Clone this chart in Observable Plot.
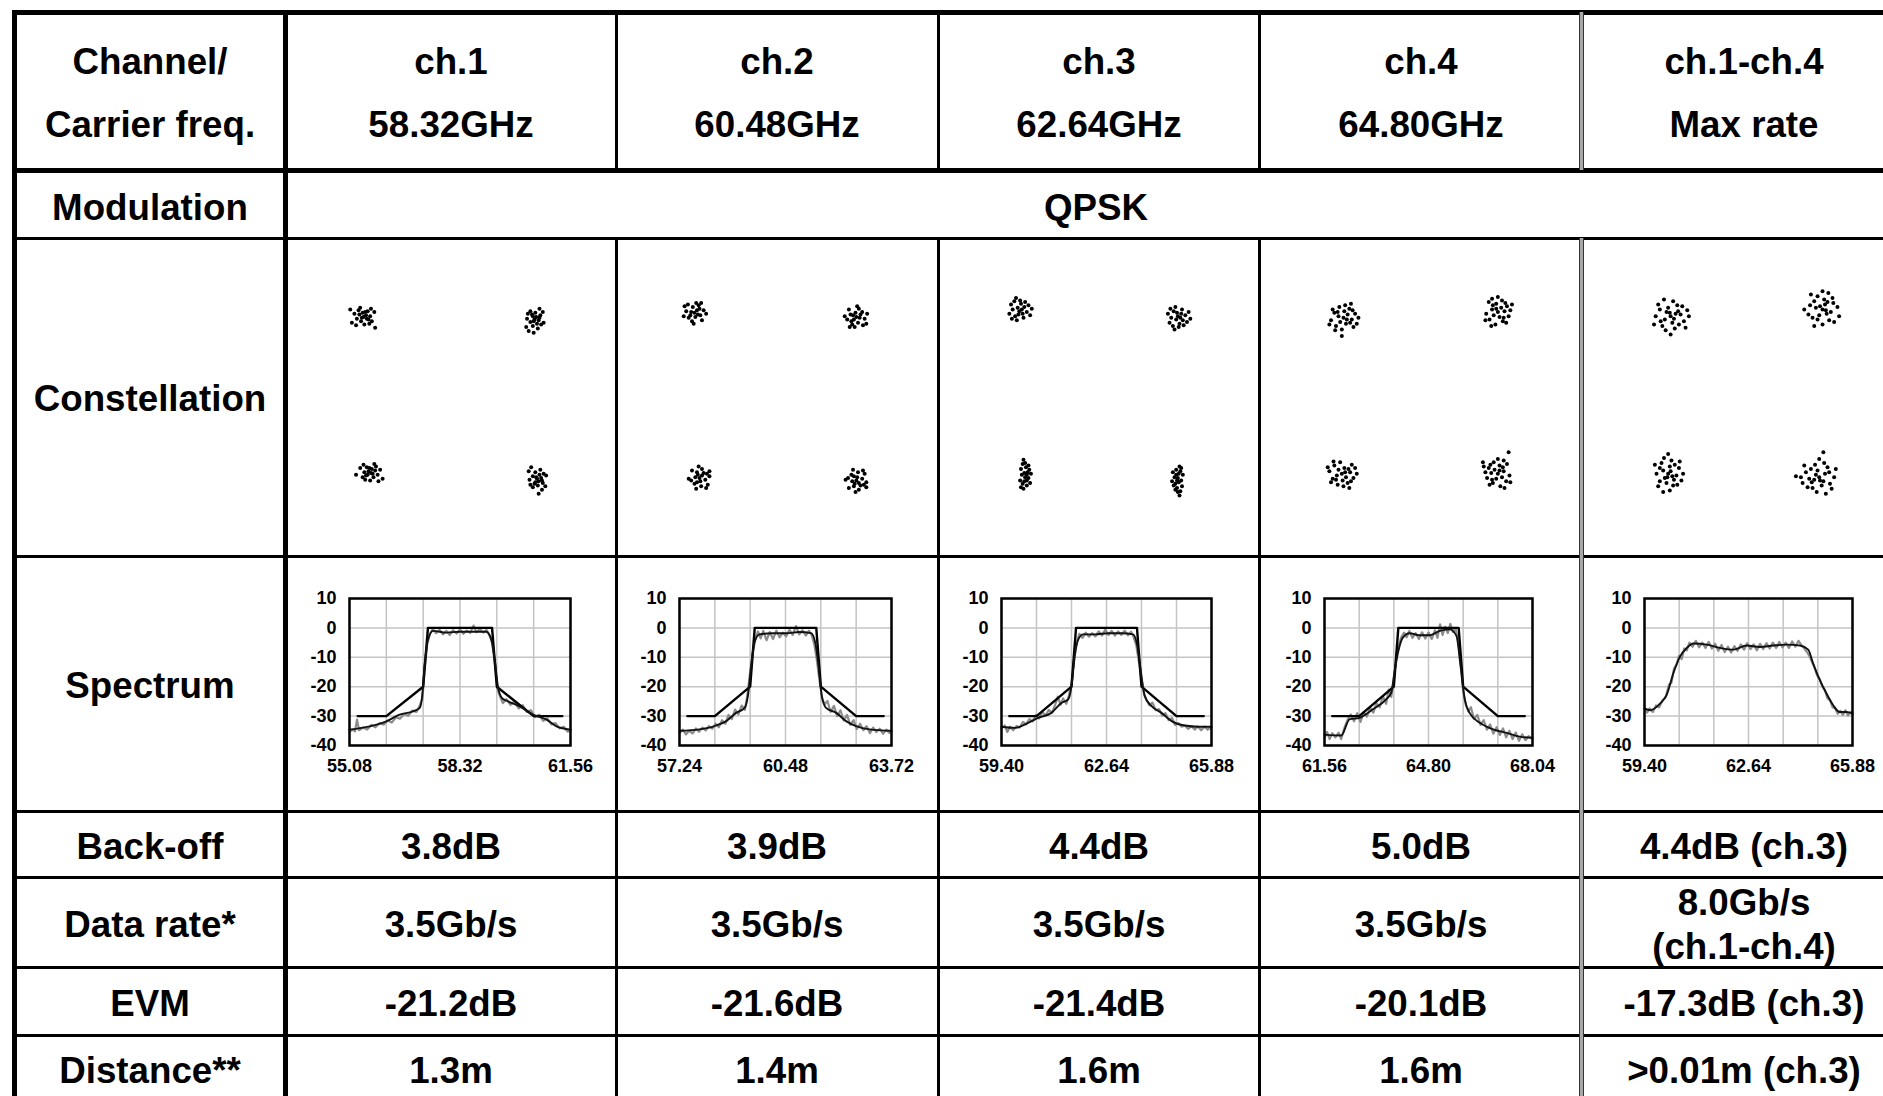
<!DOCTYPE html>
<html><head><meta charset="utf-8">
<script src="https://cdn.jsdelivr.net/npm/d3@7"></script>
<script src="https://cdn.jsdelivr.net/npm/@observablehq/plot@0.6"></script>
<style>
html,body{margin:0;padding:0;background:#fff;overflow:hidden;}
#wrap{position:relative;width:1883px;height:1096px;overflow:hidden;background:#fff;font-family:"Liberation Sans",Arial,sans-serif;font-weight:bold;color:#000;}
.ln{position:absolute;background:#000;}
.dbl{position:absolute;box-sizing:border-box;border-left:1.5px solid #333;border-right:1.5px solid #333;background:#a8a8a8;}
.tx{position:absolute;transform:translate(-50%,-50%) scaleX(1.02);white-space:nowrap;font-size:36px;line-height:1;}
.pl{position:absolute;}
</style></head><body><div id="wrap"></div>
<script>
// ---------------- DATA ----------------
const channels = ["ch.1", "ch.2", "ch.3", "ch.4", "ch.1-ch.4"];
const carrierFreq = ["58.32GHz", "60.48GHz", "62.64GHz", "64.80GHz", "Max rate"];
const headerLabel = ["Channel/", "Carrier freq."];
const rowLabels = ["Modulation", "Constellation", "Spectrum", "Back-off", "Data rate*", "EVM", "Distance**"];
const modulation = "QPSK";
const backOff = ["3.8dB", "3.9dB", "4.4dB", "5.0dB", "4.4dB (ch.3)"];
const dataRate = [["3.5Gb/s"], ["3.5Gb/s"], ["3.5Gb/s"], ["3.5Gb/s"], ["8.0Gb/s", "(ch.1-ch.4)"]];
const evm = ["-21.2dB", "-21.6dB", "-21.4dB", "-20.1dB", "-17.3dB (ch.3)"];
const distance = ["1.3m", "1.4m", "1.6m", "1.6m", ">0.01m (ch.3)"];

const yTicks = [10, 0, -10, -20, -30, -40];
const xTickLabels = [
  ["55.08", "58.32", "61.56"],
  ["57.24", "60.48", "63.72"],
  ["59.40", "62.64", "65.88"],
  ["61.56", "64.80", "68.04"],
  ["59.40", "62.64", "65.88"]
];
const gridFreqs = [
  [55.08, 56.16, 57.24, 58.32, 59.40, 60.48, 61.56],
  [57.24, 58.32, 59.40, 60.48, 61.56, 62.64, 63.72],
  [59.40, 60.48, 61.56, 62.64, 63.72, 64.80, 65.88],
  [61.56, 62.64, 63.72, 64.80, 65.88, 66.96, 68.04],
  [59.40, 60.48, 61.56, 62.64, 63.72, 64.80, 65.88]
];

// spectral mask (black template), [GHz, dB]
const maskCh1 = [[55.32,-30],[56.16,-30],[57.24,-20],[57.38,0],[59.26,0],[59.40,-20],[60.48,-30],[61.32,-30]];
const maskCh2 = [[57.48,-30],[58.32,-30],[59.40,-20],[59.54,0],[61.42,0],[61.56,-20],[62.64,-30],[63.48,-30]];
const maskCh3 = [[59.64,-30],[60.48,-30],[61.56,-20],[61.70,0],[63.58,0],[63.72,-20],[64.80,-30],[65.64,-30]];
const maskCh4 = [[61.80,-30],[62.64,-30],[63.72,-20],[63.86,0],[65.74,0],[65.88,-20],[66.96,-30],[67.80,-30]];

// measured spectrum, averaged (black)
const smoothCh1 = [[55.08,-34.6],[55.67,-33.5],[56.16,-31.8],[56.55,-29.5],[56.94,-28.4],[57.14,-27.2],[57.21,-23.3],[57.28,-13],[57.38,-4],[57.53,-1],[57.92,-1.6],[58.31,-1.3],[58.70,-1.3],[59.09,-1.3],[59.24,-4],[59.34,-11],[59.44,-20.5],[59.56,-24],[59.73,-25],[60.07,-26.7],[60.46,-29.5],[60.86,-31.2],[61.15,-33.5],[61.56,-34.6]];
const smoothCh2 = [[57.24,-35],[57.85,-34.5],[58.31,-33.4],[58.67,-31.7],[58.97,-28.9],[59.23,-27.2],[59.33,-23.2],[59.43,-13],[59.53,-5],[59.69,-2.2],[60.09,-1.8],[60.50,-1.8],[60.91,-1.4],[61.26,-1.8],[61.39,-5],[61.49,-13],[61.59,-23.2],[61.72,-27.2],[62.03,-28.9],[62.33,-31.7],[62.64,-33.4],[63.05,-34.5],[63.72,-35]];
const smoothCh3 = [[59.40,-33.6],[59.81,-34],[60.22,-32.3],[60.53,-30.6],[60.94,-28.9],[61.25,-25.5],[61.46,-24.3],[61.56,-19.8],[61.66,-9.5],[61.77,-3.9],[61.92,-2.2],[62.28,-2.2],[62.69,-1.8],[63.10,-1.8],[63.46,-2.2],[63.59,-6.1],[63.69,-14],[63.82,-23.2],[64.03,-26.6],[64.34,-28.9],[64.65,-31.7],[65.06,-33.2],[65.47,-33.6],[65.88,-33.6]];
const smoothCh4 = [[61.56,-36.3],[62.08,-36.6],[62.34,-31.1],[62.65,-30.6],[63.07,-27.7],[63.48,-24.3],[63.64,-22],[63.74,-15.2],[63.85,-8.4],[64.00,-3.3],[64.21,-1.8],[64.52,-2.5],[64.84,-2.5],[65.15,-1],[65.46,-0.5],[65.67,-2.7],[65.80,-13],[65.93,-24.3],[66.08,-28.9],[66.40,-32.3],[66.81,-34.5],[67.23,-35.7],[67.64,-37],[68.04,-37.4]];
const smoothAll = [[59.40,-27.4],[59.58,-28],[59.89,-25.7],[60.09,-22.8],[60.30,-15.4],[60.51,-9.7],[60.72,-6.8],[60.92,-5.3],[61.34,-5.7],[61.75,-6.8],[62.17,-7.4],[62.58,-6],[62.99,-6.5],[63.41,-6],[63.82,-5.7],[64.24,-6],[64.50,-7.4],[64.65,-12],[64.86,-17.7],[65.07,-22.3],[65.28,-26.3],[65.48,-28.6],[65.69,-28.6],[65.88,-29.1]];

// measured spectrum, raw trace (gray)
const rawCh1 = [[55.08,-35.4],[55.16,-34.6],[55.24,-35.2],[55.30,-31.2],[55.36,-34.8],[55.48,-33.9],[55.60,-34.6],[55.72,-33.0],[55.84,-33.8],[55.96,-32.4],[56.08,-32.9],[56.20,-31.5],[56.32,-32.2],[56.44,-30.4],[56.56,-30.9],[56.68,-29.3],[56.80,-29.9],[56.92,-28.1],[57.04,-28.6],[57.14,-26.4],[57.22,-24.0],[57.28,-14.0],[57.36,-5.5],[57.44,-2.0],[57.52,-0.4],[57.62,-1.8],[57.72,-0.6],[57.82,-2.2],[57.92,-1.0],[58.02,-2.4],[58.12,-0.8],[58.22,-1.9],[58.32,-0.5],[58.42,-2.0],[58.52,-0.9],[58.62,-1.7],[58.72,0.8],[58.80,-1.5],[58.90,-0.4],[59.00,-1.6],[59.10,-0.7],[59.18,-2.4],[59.26,-5.0],[59.34,-12.0],[59.42,-20.8],[59.50,-23.5],[59.58,-25.6],[59.68,-24.2],[59.80,-26.2],[59.92,-25.0],[60.04,-27.4],[60.16,-26.3],[60.28,-28.6],[60.40,-28.0],[60.52,-30.3],[60.64,-29.5],[60.76,-31.6],[60.88,-30.8],[61.00,-32.8],[61.12,-32.4],[61.24,-34.2],[61.36,-33.6],[61.48,-35.3],[61.56,-34.8]];
const rawCh2 = [[57.24,-35.8],[57.34,-34.6],[57.44,-36.2],[57.54,-35.0],[57.64,-35.9],[57.74,-34.2],[57.84,-35.3],[57.94,-33.9],[58.04,-34.9],[58.14,-33.4],[58.24,-34.3],[58.34,-32.6],[58.44,-33.8],[58.54,-31.4],[58.64,-32.6],[58.74,-29.6],[58.84,-31.0],[58.94,-27.8],[59.04,-29.4],[59.14,-26.4],[59.24,-27.9],[59.32,-22.5],[59.40,-15.0],[59.48,-8.5],[59.56,-3.5],[59.64,-1.2],[59.72,-3.6],[59.80,-1.0],[59.90,-4.2],[60.00,-1.4],[60.10,-3.8],[60.20,-0.9],[60.30,-3.2],[60.40,-1.6],[60.50,-2.9],[60.60,-0.6],[60.70,-2.4],[60.80,0.6],[60.90,-2.2],[61.00,-0.8],[61.10,-2.6],[61.20,-0.9],[61.28,-2.5],[61.36,-5.5],[61.44,-11.0],[61.52,-18.0],[61.60,-24.0],[61.68,-26.0],[61.76,-24.8],[61.86,-28.6],[61.96,-26.5],[62.06,-30.0],[62.16,-28.0],[62.26,-31.5],[62.36,-29.6],[62.46,-33.0],[62.56,-31.4],[62.66,-34.4],[62.76,-32.6],[62.86,-34.8],[62.96,-33.4],[63.06,-35.8],[63.16,-33.9],[63.26,-35.4],[63.36,-34.3],[63.46,-36.0],[63.56,-34.6],[63.66,-35.7],[63.72,-35.0]];
const rawCh3 = [[59.40,-34.2],[59.50,-33.2],[59.58,-35.4],[59.66,-33.6],[59.76,-34.8],[59.86,-33.4],[59.96,-33.9],[60.06,-32.0],[60.16,-32.8],[60.26,-31.0],[60.36,-31.8],[60.46,-29.6],[60.56,-30.8],[60.66,-28.6],[60.76,-29.8],[60.86,-27.9],[60.96,-28.9],[61.06,-26.0],[61.14,-23.4],[61.22,-26.2],[61.30,-24.0],[61.40,-25.8],[61.48,-23.0],[61.56,-19.0],[61.64,-11.0],[61.72,-5.0],[61.80,-2.0],[61.90,-3.4],[62.00,-1.6],[62.10,-3.0],[62.20,-1.8],[62.30,-2.9],[62.40,-1.2],[62.50,-2.6],[62.60,-0.6],[62.70,-2.4],[62.80,-1.0],[62.90,-2.6],[63.00,-1.2],[63.10,-2.4],[63.20,-0.9],[63.30,-2.5],[63.40,-1.3],[63.48,-3.2],[63.56,-6.0],[63.64,-11.5],[63.72,-17.5],[63.80,-22.5],[63.88,-24.6],[63.96,-26.3],[64.06,-25.4],[64.16,-28.0],[64.26,-27.6],[64.36,-29.8],[64.46,-29.0],[64.56,-31.4],[64.66,-30.6],[64.76,-33.0],[64.86,-32.4],[64.96,-33.6],[65.06,-33.2],[65.16,-34.4],[65.26,-33.4],[65.36,-34.6],[65.46,-33.5],[65.56,-34.8],[65.66,-33.6],[65.76,-34.6],[65.88,-33.8]];
const rawCh4 = [[61.56,-37.4],[61.64,-35.4],[61.72,-37.8],[61.80,-35.8],[61.90,-37.2],[62.00,-35.6],[62.08,-37.8],[62.18,-34.0],[62.28,-31.2],[62.38,-29.4],[62.48,-31.8],[62.58,-29.0],[62.68,-32.0],[62.78,-28.6],[62.88,-30.2],[62.98,-27.0],[63.08,-28.8],[63.18,-25.6],[63.28,-27.0],[63.38,-23.2],[63.48,-25.8],[63.56,-21.0],[63.64,-23.5],[63.72,-17.0],[63.80,-10.0],[63.88,-5.5],[63.96,-3.0],[64.04,-1.6],[64.12,-3.2],[64.20,-1.0],[64.30,-3.4],[64.40,-1.8],[64.50,-3.8],[64.60,-1.5],[64.70,-3.6],[64.80,-1.6],[64.90,-3.8],[65.00,-0.8],[65.08,-3.4],[65.16,1.2],[65.24,-2.4],[65.32,0.4],[65.40,-1.8],[65.48,1.4],[65.56,-1.4],[65.64,-0.2],[65.72,-4.0],[65.80,-12.0],[65.88,-21.5],[65.96,-26.0],[66.04,-28.4],[66.12,-27.0],[66.22,-31.0],[66.32,-29.6],[66.42,-33.0],[66.52,-31.4],[66.62,-34.6],[66.72,-32.8],[66.82,-36.0],[66.92,-33.8],[67.02,-36.4],[67.12,-34.2],[67.22,-37.2],[67.32,-35.0],[67.42,-37.8],[67.52,-35.6],[67.62,-38.4],[67.72,-36.2],[67.82,-38.2],[67.92,-36.8],[68.04,-37.8]];
const rawAll = [[59.40,-27.0],[59.48,-28.8],[59.56,-27.4],[59.66,-28.6],[59.76,-26.4],[59.86,-27.0],[59.96,-24.6],[60.06,-23.6],[60.16,-19.4],[60.24,-18.6],[60.32,-13.8],[60.40,-12.4],[60.48,-9.4],[60.56,-10.6],[60.64,-7.0],[60.72,-7.6],[60.80,-5.0],[60.90,-6.4],[61.00,-4.4],[61.10,-6.6],[61.20,-5.0],[61.30,-6.8],[61.40,-4.8],[61.50,-7.0],[61.60,-5.4],[61.70,-7.8],[61.80,-5.8],[61.90,-8.2],[62.00,-6.4],[62.10,-8.4],[62.20,-6.2],[62.30,-7.8],[62.40,-5.6],[62.50,-7.4],[62.60,-5.2],[62.70,-7.2],[62.80,-5.6],[62.90,-7.6],[63.00,-5.4],[63.10,-7.2],[63.20,-5.2],[63.30,-7.0],[63.40,-5.0],[63.50,-6.8],[63.60,-4.8],[63.70,-6.6],[63.80,-5.0],[63.90,-6.8],[64.00,-4.6],[64.10,-6.4],[64.20,-4.4],[64.30,-6.0],[64.38,-7.0],[64.46,-8.2],[64.54,-9.6],[64.62,-11.6],[64.70,-13.6],[64.78,-16.2],[64.86,-17.4],[64.94,-20.0],[65.02,-21.2],[65.10,-24.0],[65.18,-24.6],[65.26,-27.0],[65.34,-27.4],[65.42,-29.2],[65.50,-28.2],[65.58,-29.6],[65.66,-28.0],[65.74,-29.8],[65.82,-28.6],[65.88,-29.4]];

// constellation samples, [I, Q]
const constCh1 = [
[-1.06,0.97],[-1.02,0.95],[-1.11,1.00],[-1.04,1.03],[-1.09,0.92],[-0.98,0.98],[-1.14,0.95],[-1.01,1.04],[-1.12,1.05],[-1.05,0.88],[-0.96,0.92],[-1.17,1.01],[-1.03,0.99],[-1.08,0.96],[-0.99,0.89],[-1.10,1.08],[-0.93,1.03],[-1.20,0.90],[-1.00,0.94],[-1.07,1.02],[-0.97,1.07],[-1.15,0.87],[-1.22,1.06],[-0.92,0.84],
[1.00,0.94],[0.98,0.98],[1.03,0.89],[1.06,0.96],[0.95,0.91],[1.01,1.02],[0.98,0.86],[1.07,0.99],[1.08,0.88],[0.91,0.95],[0.95,1.04],[1.04,0.83],[1.02,0.97],[0.99,0.92],[0.92,1.01],[1.11,0.90],[1.06,1.07],[0.93,0.80],[0.97,1.00],[1.05,0.93],[1.10,1.03],[0.90,0.85],[0.99,0.78],
[-0.97,-0.91],[-1.01,-0.93],[-0.92,-0.88],[-0.99,-0.85],[-0.94,-0.96],[-1.05,-0.90],[-0.89,-0.93],[-1.02,-0.84],[-0.91,-0.83],[-0.98,-1.00],[-1.07,-0.96],[-0.86,-0.87],[-1.00,-0.89],[-0.95,-0.92],[-1.04,-0.99],[-0.93,-0.80],[-1.10,-0.85],[-0.83,-0.98],[-1.03,-0.94],[-0.96,-0.86],[-1.06,-0.81],[-0.88,-1.01],[-1.15,-0.93],
[1.03,-0.98],[1.01,-1.02],[1.06,-0.93],[1.09,-1.00],[0.98,-0.95],[1.04,-1.06],[1.01,-0.90],[1.10,-1.03],[1.11,-0.92],[0.94,-0.99],[0.98,-1.08],[1.07,-0.87],[1.05,-1.01],[1.02,-0.96],[0.95,-1.05],[1.14,-0.94],[1.09,-1.11],[0.96,-0.84],[1.00,-1.04],[1.08,-0.97],[1.13,-1.07],[0.93,-0.89],[1.05,-1.16]
];
const constCh2 = [
[-1.00,1.02],[-0.97,1.05],[-1.04,1.03],[-0.99,0.97],[-1.02,1.09],[-0.93,0.99],[-1.07,0.96],[-0.95,1.11],[-1.10,1.04],[-0.89,1.05],[-1.03,0.92],[-0.98,1.14],[-0.91,0.93],[-1.12,1.10],[-0.96,1.00],[-1.05,0.99],[-0.94,1.07],[-1.08,1.12],[-0.86,1.01],[-1.01,0.89],[-0.92,1.14],[-1.13,0.98],
[0.95,0.97],[0.92,0.94],[0.99,0.96],[0.94,1.02],[0.97,0.90],[0.88,1.00],[1.02,1.03],[0.90,0.88],[1.05,0.95],[0.84,0.94],[0.98,1.07],[0.93,0.85],[0.86,1.06],[1.07,0.89],[0.91,0.99],[1.00,1.00],[0.89,0.92],[1.03,0.87],[0.81,0.98],[0.96,1.10],[0.87,0.85],[1.08,1.01],
[-0.94,-0.97],[-0.91,-0.94],[-0.93,-1.01],[-0.99,-0.96],[-0.87,-0.99],[-0.97,-0.90],[-1.00,-1.04],[-0.85,-0.92],[-0.92,-1.07],[-0.91,-0.86],[-1.04,-1.00],[-0.82,-0.95],[-1.03,-0.88],[-0.86,-1.09],[-0.96,-0.93],[-0.97,-1.02],[-0.89,-0.91],[-0.84,-1.05],[-0.95,-0.83],[-1.07,-0.98],[-0.82,-0.89],[-0.98,-1.10],
[0.95,-1.00],[0.98,-1.03],[0.96,-0.96],[0.90,-1.01],[1.02,-0.98],[0.92,-1.07],[0.89,-0.93],[1.04,-1.05],[0.97,-0.90],[0.98,-1.11],[0.85,-0.97],[1.07,-1.02],[0.86,-1.09],[1.03,-0.88],[0.93,-1.04],[0.92,-0.95],[1.00,-1.06],[1.05,-0.92],[0.94,-1.14],[0.82,-0.99],[1.07,-1.08],[0.91,-0.87]
];
const constCh3 = [
[-0.96,1.04],[-0.98,1.08],[-0.92,1.01],[-0.90,1.09],[-1.01,0.98],[-0.94,1.13],[-1.04,1.06],[-0.87,1.03],[-0.99,0.93],[-0.85,1.11],[-1.06,1.12],[-0.95,1.17],[-0.91,0.96],[-1.02,1.16],[-0.83,0.99],[-1.08,1.01],[-0.93,1.06],[-0.97,1.00],[-0.89,1.15],[-1.05,0.95],[-0.81,1.07],[-1.00,1.20],
[0.95,0.98],[0.93,0.94],[0.99,1.01],[1.01,0.93],[0.90,1.04],[0.97,0.89],[0.87,0.96],[1.04,0.99],[0.92,1.09],[1.06,0.91],[0.85,0.90],[0.96,0.85],[1.00,1.06],[0.89,0.86],[1.08,1.03],[0.83,1.01],[0.98,0.96],[0.94,1.02],[1.02,0.87],[0.86,1.07],[1.10,0.95],[0.91,0.82],
[-0.89,-0.96],[-0.90,-0.91],[-0.87,-1.00],[-0.86,-0.90],[-0.92,-1.04],[-0.88,-0.84],[-0.93,-0.93],[-0.85,-0.97],[-0.91,-1.10],[-0.84,-0.87],[-0.94,-0.86],[-0.89,-0.79],[-0.87,-1.06],[-0.92,-0.80],[-0.83,-1.03],[-0.95,-1.00],[-0.87,-0.93],[-0.90,-1.01],[-0.85,-0.82],[-0.94,-1.08],[-0.82,-0.92],[-0.91,-0.75],
[0.95,-0.97],[0.96,-1.02],[0.93,-0.93],[0.92,-1.04],[0.98,-0.89],[0.94,-1.09],[0.99,-1.00],[0.91,-0.96],[0.97,-0.83],[0.90,-1.06],[1.00,-1.07],[0.95,-1.14],[0.93,-0.87],[0.98,-1.13],[0.89,-0.90],[1.01,-0.93],[0.94,-1.00],[0.96,-0.92],[0.92,-1.11],[0.99,-0.85],[0.88,-1.01],[0.97,-1.18]
];
const constCh4 = [
[-0.94,0.96],[-0.89,1.00],[-1.00,0.98],[-0.91,0.89],[-0.98,0.91],[-0.84,0.94],[-1.05,1.02],[-0.87,1.07],[-1.03,0.86],[-0.80,1.01],[-1.09,0.93],[-0.92,1.11],[-0.82,0.85],[-0.99,1.09],[-0.86,0.90],[-1.07,1.06],[-0.76,0.96],[-0.96,0.82],[-0.83,1.05],[-1.11,0.88],[-0.90,0.94],[-1.01,1.03],[-0.78,0.89],[-1.04,0.81],[-0.93,1.04],[-0.85,1.13],[-0.96,0.74],
[0.92,1.03],[0.96,1.08],[0.94,0.97],[0.85,1.06],[0.87,0.99],[0.90,1.13],[0.98,0.92],[1.03,1.10],[0.82,0.94],[0.97,1.17],[0.89,0.88],[1.07,1.05],[0.81,1.15],[1.05,0.98],[0.86,1.11],[1.02,0.90],[0.92,1.21],[0.78,1.01],[1.01,1.14],[0.84,0.86],[0.90,1.07],[0.99,0.96],[0.85,1.19],[0.77,0.93],[1.00,1.04],[1.09,1.12],
[-0.96,-0.92],[-0.91,-0.96],[-1.02,-0.94],[-0.93,-0.85],[-1.00,-0.87],[-0.86,-0.90],[-1.07,-0.98],[-0.89,-1.03],[-1.05,-0.82],[-0.82,-0.97],[-1.11,-0.89],[-0.94,-1.07],[-0.84,-0.81],[-1.01,-1.05],[-0.88,-0.86],[-1.09,-1.02],[-0.78,-0.92],[-0.98,-0.78],[-0.85,-1.01],[-1.13,-0.84],[-0.92,-0.90],[-1.03,-0.99],[-0.80,-0.85],[-1.06,-0.77],[-0.95,-1.00],[-0.87,-1.09],
[0.92,-0.92],[0.88,-0.87],[0.90,-0.98],[0.99,-0.89],[0.97,-0.96],[0.94,-0.82],[0.86,-1.03],[0.81,-0.85],[1.02,-1.01],[0.87,-0.78],[0.95,-1.07],[0.77,-0.90],[1.03,-0.80],[0.79,-0.97],[0.98,-0.84],[0.82,-1.05],[0.92,-0.74],[1.06,-0.94],[0.83,-0.81],[1.00,-1.09],[0.94,-0.88],[0.85,-0.99],[0.99,-0.76],[1.07,-1.02],[0.84,-0.91],[0.75,-0.83],[1.05,-0.66],[0.74,-0.78]
];
const constAll = [
[-0.89,0.98],[-0.83,1.01],[-0.94,1.03],[-0.87,0.90],[-0.96,0.94],[-0.77,1.00],[-1.02,1.06],[-0.81,1.11],[-0.99,0.86],[-0.73,0.92],[-1.07,0.98],[-0.86,1.16],[-0.75,1.10],[-0.95,0.81],[-0.79,0.88],[-1.04,1.12],[-0.69,1.05],[-0.92,1.08],[-0.84,0.83],[-1.01,0.92],[-0.71,0.84],[-1.09,0.88],[-0.89,0.76],[-0.80,1.04],[-0.97,1.18],[-0.67,0.98],[-0.90,1.02],[-0.85,0.95],
[0.94,1.06],[0.97,1.12],[0.99,1.01],[0.86,1.08],[0.90,0.99],[0.96,1.18],[1.02,0.93],[1.07,1.14],[0.82,0.96],[0.88,1.22],[0.94,0.88],[1.12,1.09],[1.06,1.20],[0.77,1.00],[0.84,1.16],[1.08,0.91],[1.01,1.26],[1.04,1.03],[0.79,1.11],[0.88,0.94],[0.80,1.24],[0.84,0.86],[0.72,1.06],[1.00,1.15],[1.14,0.98],[0.94,1.28],[0.98,1.05],[0.91,1.10],
[-0.92,-0.92],[-0.87,-0.95],[-0.96,-0.97],[-0.90,-0.83],[-0.98,-0.88],[-0.82,-0.94],[-1.02,-1.01],[-0.86,-1.06],[-1.00,-0.79],[-0.79,-0.85],[-1.06,-0.92],[-0.90,-1.12],[-0.81,-1.05],[-0.97,-0.73],[-0.84,-0.81],[-1.04,-1.07],[-0.76,-1.00],[-0.94,-1.03],[-0.88,-0.76],[-1.02,-0.85],[-0.78,-0.77],[-1.08,-0.81],[-0.92,-0.68],[-0.85,-0.99],[-0.98,-1.14],[-0.74,-0.92],[-0.93,-0.96],[-0.89,-0.89],
[0.90,-0.96],[0.84,-0.99],[0.95,-1.01],[0.88,-0.88],[0.97,-0.92],[0.78,-0.98],[1.03,-1.04],[0.82,-1.09],[1.00,-0.84],[0.74,-0.90],[1.08,-0.96],[0.87,-1.14],[0.76,-1.08],[0.96,-0.79],[0.80,-0.86],[1.05,-1.10],[0.70,-1.03],[0.93,-1.06],[0.85,-0.81],[1.02,-0.90],[0.72,-0.82],[1.10,-0.86],[0.90,-0.74],[0.81,-1.02],[0.98,-1.16],[0.68,-0.96],[0.91,-1.00],[0.86,-0.93],[0.62,-0.95],[0.95,-0.66]
];

const constellations = [constCh1, constCh2, constCh3, constCh4, constAll];
const rawSpectra = [rawCh1, rawCh2, rawCh3, rawCh4, rawAll];
const smoothSpectra = [smoothCh1, smoothCh2, smoothCh3, smoothCh4, smoothAll];
const masks = [maskCh1, maskCh2, maskCh3, maskCh4, null];

// ---------------- LAYOUT ----------------
const colX = [14, 286, 616, 938, 1259, 1583, 1905];
const rowY = [12, 170, 238, 556, 811, 877, 967, 1035, 1105];
const specFrame = [ // [left offset inside cell, frame width]
  [63, 221], [63, 212], [63, 210], [65, 208], [61, 208]
];
const wrap = document.getElementById("wrap");

function line(x, y, w, h, cls) {
  const d = document.createElement("div");
  d.className = cls || "ln";
  Object.assign(d.style, {left: x + "px", top: y + "px", width: w + "px", height: h + "px"});
  wrap.appendChild(d);
}
function text(str, x, y) {
  const d = document.createElement("div");
  d.className = "tx";
  d.textContent = str;
  d.style.left = x + "px";
  d.style.top = (y + 1.5) + "px";
  wrap.appendChild(d);
}

// plots
const colCenter = i => (colX[i + 1] + colX[i + 2]) / 2;
const unitPx = 83;
for (let i = 0; i < 5; i++) {
  const x0 = colX[i + 1], x1 = colX[i + 2], w = x1 - x0;
  // constellation
  const ch = rowY[3] - rowY[2];
  const cons = Plot.plot({
    width: w, height: ch, margin: 0,
    x: {domain: [-w / 2 / unitPx, w / 2 / unitPx], axis: null},
    y: {domain: [-ch / 2 / unitPx, ch / 2 / unitPx], axis: null},
    style: {background: "transparent"},
    marks: [Plot.dot(constellations[i], {x: d => d[0], y: d => d[1], r: 2, fill: "#000", stroke: null})]
  });
  cons.classList.add("pl");
  Object.assign(cons.style, {left: x0 + "px", top: rowY[2] + "px"});
  wrap.appendChild(cons);

  // spectrum
  const [ml, fw] = specFrame[i];
  const sh = rowY[4] - rowY[3];
  const ticks = xTickLabels[i].map(Number);
  const marks = [
    Plot.gridX(gridFreqs[i], {stroke: "#c4c4c4", strokeOpacity: 1, strokeWidth: 1.5}),
    Plot.gridY(yTicks, {stroke: "#c4c4c4", strokeOpacity: 1, strokeWidth: 1.5}),
    Plot.line(rawSpectra[i], {x: d => d[0], y: d => d[1], stroke: "#8c8c8c", strokeWidth: 2.2}),
  ];
  if (masks[i]) marks.push(Plot.line(masks[i], {x: d => d[0], y: d => d[1], stroke: "#000", strokeWidth: 2.4}));
  marks.push(
    Plot.line(smoothSpectra[i], {x: d => d[0], y: d => d[1], stroke: "#111", strokeWidth: 1.9, curve: "monotone-x"}),
    Plot.frame({stroke: "#000", strokeWidth: 2.5}),
    Plot.axisY(yTicks, {tickSize: 0, tickPadding: 13, tickFormat: d => String(d), label: null, fontWeight: "bold", fontSize: 18}),
    Plot.axisX(ticks, {tickSize: 0, tickPadding: 14, tickFormat: (d, k) => xTickLabels[i][k], label: null, fontWeight: "bold", fontSize: 18})
  );
  const sp = Plot.plot({
    width: w, height: sh,
    marginLeft: ml, marginRight: w - ml - fw, marginTop: 42, marginBottom: 66,
    x: {domain: [gridFreqs[i][0], gridFreqs[i][6]]},
    y: {domain: [-40, 10]},
    style: {background: "transparent", fontFamily: "'Liberation Sans', Arial, sans-serif", fontSize: "18px", fontWeight: "bold", color: "#000"},
    marks
  });
  sp.classList.add("pl");
  Object.assign(sp.style, {left: x0 + "px", top: rowY[3] + "px"});
  wrap.appendChild(sp);
}

// grid lines
line(12, 10, 1900, 5);             // top border
line(12, 168, 1900, 5);            // header bottom
[rowY[2], rowY[3], rowY[4], rowY[5], rowY[6], rowY[7]].forEach(y => line(12, y - 1.5, 1900, 3));
line(12, 10, 5, 1100);             // left border
line(283, 10, 5, 1100);            // label column
[colX[2], colX[3], colX[4]].forEach(x => { line(x - 1.5, 12, 3, 158); line(x - 1.5, 238, 3, 870); });
line(colX[5] - 4, 12, 4.5, 158, "dbl");
line(colX[5] - 4, 238, 4.5, 870, "dbl");

// texts
text(headerLabel[0], 150, 60);
text(headerLabel[1], 150, 123);
for (let i = 0; i < 5; i++) {
  text(channels[i], colCenter(i), 60);
  text(carrierFreq[i], colCenter(i), 123);
}
const rowCenters = [206, 397, 684, 845, 923, 1002, 1069];
rowLabels.forEach((r, k) => text(r, 150, rowCenters[k]));
text(modulation, (colX[1] + colX[6]) / 2, 206);
for (let i = 0; i < 5; i++) {
  const cx = colCenter(i);
  text(backOff[i], cx, 845);
  if (dataRate[i].length === 1) text(dataRate[i][0], cx, 923);
  else { text(dataRate[i][0], cx, 901); text(dataRate[i][1], cx, 945); }
  text(evm[i], cx, 1002);
  text(distance[i], cx, 1069);
}
</script></body></html>
